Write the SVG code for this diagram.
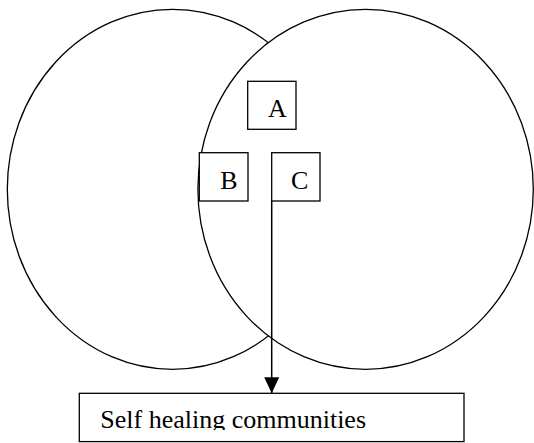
<svg xmlns="http://www.w3.org/2000/svg" width="534" height="443" viewBox="0 0 534 443">
<style>
.shape{fill:#fff;stroke:#000;stroke-width:1.3}
.box{fill:#fff;stroke:#000;stroke-width:1.3}
.lbl{font-family:"Liberation Serif","Times New Roman",serif;font-size:26px;fill:#000}
.conn{fill:none;stroke:#000;stroke-width:1.5}
</style>
<defs>
<marker id="arrow" markerUnits="userSpaceOnUse" markerWidth="16" markerHeight="16" viewBox="0 0 16 16" refX="16" refY="8" orient="auto">
<path d="M0,0.5 L16,8 L0,15.5 Z" fill="#000"/>
</marker>
<clipPath id="textclip"><rect x="80" y="394" width="384" height="36"/></clipPath>
</defs>
<rect width="534" height="443" fill="#fff"/>
<g id="left-circle"><ellipse class="shape" cx="172.5" cy="189.3" rx="165.2" ry="180"/></g>
<g id="right-circle"><ellipse class="shape" cx="365.6" cy="189.3" rx="167.7" ry="180"/></g>
<g id="node-A"><rect class="box" x="247.7" y="81.3" width="48.3" height="48"/><text class="lbl" x="268" y="117.3">A</text></g>
<g id="node-B"><rect class="box" x="199.3" y="152.7" width="48.7" height="48.3"/><text class="lbl" x="220.3" y="189.3">B</text></g>
<g id="node-C"><rect class="box" x="271.7" y="152.7" width="48.3" height="48.3"/><text class="lbl" x="291" y="189.3">C</text></g>
<g id="node-self-healing"><rect class="box" x="79.3" y="393.3" width="384.7" height="48.3"/><text class="lbl" x="100.3" y="428.3" clip-path="url(#textclip)">Self healing communities</text></g>
<g id="connectors"><line class="conn" x1="271.7" y1="201" x2="271.7" y2="393.3" marker-end="url(#arrow)"/></g>
</svg>
